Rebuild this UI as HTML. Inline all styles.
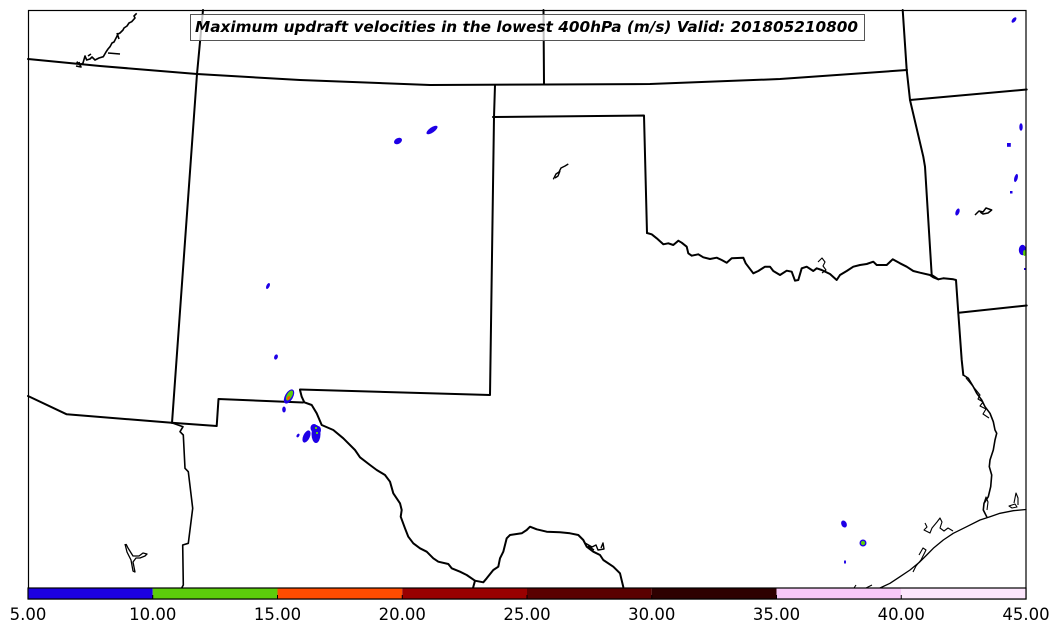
<!DOCTYPE html>
<html>
<head>
<meta charset="utf-8">
<style>
  html,body{margin:0;padding:0;background:#fff;}
  svg{display:block;}
  .st{fill:none;stroke:#000;stroke-width:2;stroke-linejoin:round;stroke-linecap:round;}
  .cs{fill:none;stroke:#000;stroke-width:1.3;stroke-linejoin:round;stroke-linecap:round;}
  .lk{fill:none;stroke:#000;stroke-width:1.1;stroke-linejoin:round;}
  .tk{font-family:"DejaVu Sans","Liberation Sans",sans-serif;font-size:16.5px;fill:#000;}
</style>
</head>
<body>
<svg width="1060" height="633" viewBox="0 0 1060 633" xmlns="http://www.w3.org/2000/svg">
  <rect x="0" y="0" width="1060" height="633" fill="#fff"/>

  <!-- state borders -->
  <path class="st" d="M28,59 L100,66 L197,74 L300,80 L430,85 L545,84.5 L650,84 L780,79 L907,70"/>
  <path class="st" d="M203,10 L197,74 L172,423"/>
  <path class="st" d="M543.5,10 L544,84"/>
  <path class="st" d="M495,85 L494,117 L490,395 L300,389.5"/>
  <path class="st" d="M493,117 L644,115.5 L647,233"/>
  <path class="st" d="M28,396 L66.7,414.3 L171.7,422.7 L216.7,426 L218.5,399 L303,402.5"/>
  <!-- Mexico state border -->
  <path class="st" style="stroke-width:1.6" d="M171.7,422.7 L183,426.7 L180,431.7 L183.3,435 L185,468.3 L188.3,471.7 L192.7,508.3 L188.3,543.3 L182.7,545 L183.3,585 L181.7,588"/>
  <!-- Rio Grande -->
  <path class="st" d="M300,390 L301.7,396.7 L304.3,402.3 L311.7,405 L316.7,413.3 L321.7,425 L333.3,430 L343.3,438.3 L355,450 L360,457.3 L370,465 L376.7,470 L385,475 L390,481.7 L393.3,493.3 L400,503.3 L401.7,510 L400.7,516.7 L405,528.3 L408.3,536.7 L413.3,543.3 L420,548.3 L426.7,551.7 L433.3,558.3 L438.3,561.7 L448.3,564 L451.7,568.3 L460,571.7 L466.7,575 L475,580.7 L483.3,582.3 L486.7,578.3 L493.3,570 L498.3,566.7 L500,558.3 L503.3,551.7 L506.7,538.3 L510,535 L521.7,533.3 L526.7,530 L530,526.7 L536.7,529.3 L546.7,531.7 L560,532.3 L570,533.3 L578.3,535 L583.3,540 L586.7,546.7 L593.3,551.7 L600,555 L603.3,560 L613.3,566.7 L620,573.3 L623.3,587"/>
  <path class="st" d="M475,580.7 L473,588"/>
  <path class="lk" style="stroke-width:1.4" d="M585,543 L592,547 L596,545 L598,550 L604,549 L603,543 L601,548 M588,546 L594,550"/>
  <!-- Red River -->
  <path class="st" d="M647,233 L651.7,234.3 L656.7,238.3 L663.3,244.3 L668.3,243.3 L673.3,245 L678.3,240.7 L681.7,242.7 L686.7,246.7 L688.3,253.3 L691.7,255.7 L698.3,254.3 L703.3,257.3 L710,259 L716.7,257.7 L721.7,260 L726.7,262.7 L731.7,258.3 L743.3,257.7 L745.7,263.3 L753.3,273.3 L758.3,271 L765,266.7 L770,266.7 L773.3,271 L780,275 L786.7,270.7 L791.7,271.7 L795,280.7 L798.3,280 L801.7,268.3 L806.7,266.7 L813.3,271 L816.7,268.3 L821.7,270 L830,274 L836.7,280 L840,275 L846.7,271 L853.3,266.7 L860,265 L866.7,264 L873.3,261.7 L876.7,265 L886.7,265 L892.7,259.3 L900,263.3 L906.7,266.7 L913.3,271 L920,272.7 L930,275 L933.3,277.3 L938.3,279.3 L943.3,278.3 L953.3,279.3 L956,280 L958.3,313 L961.7,360 L963.3,375"/>
  <path class="lk" d="M818,262 L822,258 L825,262 L823,266 L826,270 L822,273"/>
  <!-- Sabine -->
  <path class="st" style="stroke-width:1.6" d="M963.3,375 L968.3,378.3 L973.3,386.7 L976.7,393.3 L981.7,400 L985,406.7 L990,413.3 L993.3,421.7 L995,430 L996.7,433.3 L995,440 L993.3,450 L990,460 L989.3,466.7 L991.7,475 L990.7,486.7 L988.3,496.7 L984,503.3 L983.3,510 L986.7,516.7"/>
  <path class="lk" d="M966,378 L971,384 L976,390 L980,395 L978,399 L983,402 L980,406 L986,409 L983,414 L989,418"/>
  <path class="lk" d="M984,503 L986,497 L988,502 L987,510"/>
  <!-- coast -->
  <path class="cs" d="M1026,509.5 L1013.3,510.7 L1000,513.3 L990,516.7 L980,520 L966.7,526.7 L953.3,533.3 L943.3,540 L933.3,548.3 L926.7,555 L920,561.7 L910,570 L900,576.7 L890,583.3 L880,588"/>
  <path class="lk" d="M925,523 L927,527 L924,530 L930,533 L932,528 L937,522 L940,518 L942,522 L940,528 L944,531 L948,528 L953,531"/>
  <path class="lk" d="M919,555 L923,548 L926,550 L921,560 L916,566 L913,572"/>
  <path class="lk" d="M1009,506 L1015,504 L1017,507 L1012,508 Z M1014,503 L1016,493 L1018,498 L1018,505"/>
  <path class="lk" d="M866,588 L872,585 M854,588 L856,585"/>
  <!-- OK/AR & AR/LA -->
  <path class="st" d="M902.7,10 L906.7,70 L910,100 L923.3,156.7 L925,166.7 L931.7,275 L938.3,279.3"/>
  <path class="st" d="M910,100 L1026.7,89.5"/>
  <path class="st" d="M958.7,312.7 L1026.7,305.5"/>

  <!-- lakes -->
  <path class="lk" style="stroke-width:1.6" d="M136.7,13.3 L134,16 L135,18 L131.7,21.7 L129,23 L127,26 L124,28 L123,30 L120,33 L118,34 L116.7,36.7 L114,42 L112,43 L110,46.7 L108,49 L106,52 L103.3,56.7 L99,58 L95,60 L92,57 L90,59 L86.7,60 L85,56 L83,63 L80,65 L77,62 L76.7,61.7 M108,53 L120,54 M79,62 L81,67 L76,66 M88,56 L91,54 M117,33 L119,39"/>
  <path class="lk" style="stroke-width:1.4" d="M553.3,179.3 L556,174 L559,172 L561,168 L565,166 L568.3,164 M555,178 L558,176 L560,171"/>
  <path class="lk" style="stroke-width:1.5" d="M975,215 L979,211 L983,212 L986,208 L991.7,210 L988,213 L983,214 L980,212"/>
  <path class="lk" style="stroke-width:1.3" d="M125,544 L127,552 L131,560 L133,571 L135,572 L133,562 L136,558 L140,558 L145,556 L147,554 L143,553 L139,556 L133,556 L128,548 L126,544"/>

  <!-- updraft cells -->
  <g fill="#1e00e6">
    <ellipse cx="1014" cy="20" rx="1.7" ry="3.2" transform="rotate(40 1014 20)"/>
    <ellipse cx="398" cy="141" rx="4.3" ry="2.9" transform="rotate(-30 398 141)"/>
    <ellipse cx="432" cy="130" rx="6.5" ry="2.6" transform="rotate(-35 432 130)"/>
    <ellipse cx="268" cy="286" rx="1.6" ry="3.2" transform="rotate(25 268 286)"/>
    <ellipse cx="276" cy="357" rx="1.8" ry="2.7" transform="rotate(20 276 357)"/>
    <ellipse cx="289" cy="396.5" rx="4" ry="7.8" transform="rotate(30 289 396.5)"/>
    <ellipse cx="284" cy="409.5" rx="1.8" ry="3"/>
    <ellipse cx="298" cy="435.5" rx="1.3" ry="2" transform="rotate(30 298 435.5)"/>
    <ellipse cx="306.5" cy="436.5" rx="3.3" ry="6.5" transform="rotate(25 306.5 436.5)"/>
    <ellipse cx="316" cy="434" rx="4.5" ry="9"/>
    <ellipse cx="314" cy="428" rx="3.5" ry="4"/>
    <ellipse cx="318" cy="430" rx="3" ry="4"/>
    <ellipse cx="1021" cy="127" rx="1.7" ry="3.7"/>
    <rect x="1007" y="143" width="3.8" height="3.8"/>
    <ellipse cx="1016" cy="178" rx="1.7" ry="4.2" transform="rotate(15 1016 178)"/>
    <rect x="1010" y="191" width="2.5" height="2.5"/>
    <ellipse cx="957.5" cy="212" rx="1.9" ry="3.7" transform="rotate(20 957.5 212)"/>
    <ellipse cx="1022.5" cy="250" rx="3.7" ry="5.2"/>
    <rect x="1024" y="268" width="1.5" height="2"/>
    <ellipse cx="844" cy="524" rx="2.7" ry="3.7" transform="rotate(-25 844 524)"/>
    <ellipse cx="863" cy="543" rx="3.5" ry="3.5"/>
    <ellipse cx="845" cy="562" rx="1" ry="1.8"/>
  </g>
  <g fill="#5ccc0b">
    <ellipse cx="289.5" cy="395.5" rx="2.6" ry="5.6" transform="rotate(30 289.5 395.5)"/>
    <ellipse cx="863" cy="543" rx="2.1" ry="2.1"/>
    <ellipse cx="1024.5" cy="253" rx="1.5" ry="3"/>
    <rect x="315" y="427" width="2" height="2"/>
    <rect x="316" y="432" width="2" height="2"/>
  </g>
  <g fill="#ff4c00">
    <ellipse cx="288.5" cy="398" rx="1.3" ry="2" transform="rotate(30 288.5 398)"/>
  </g>

  <!-- title box -->
  <rect x="190.5" y="14.5" width="674" height="26" fill="#fff" fill-opacity="0.75" stroke="#555" stroke-width="1"/>
  <text x="195" y="32" textLength="663" lengthAdjust="spacingAndGlyphs" style="font-family:'DejaVu Sans','Liberation Sans',sans-serif;font-size:15px;font-weight:bold;font-style:italic;fill:#000;">Maximum updraft velocities in the lowest 400hPa (m/s) Valid: 201805210800</text>

  <!-- map frame -->
  <rect x="28.5" y="10.5" width="997.5" height="588.5" fill="none" stroke="#000" stroke-width="1.2"/>

  <!-- colorbar -->
  <rect x="28" y="588" width="124.75" height="11" fill="#1c00e0"/>
  <rect x="152.75" y="588" width="124.75" height="11" fill="#5ccc0b"/>
  <rect x="277.5" y="588" width="124.75" height="11" fill="#ff4c00"/>
  <rect x="402.25" y="588" width="124.75" height="11" fill="#990000"/>
  <rect x="527" y="588" width="124.75" height="11" fill="#5a0000"/>
  <rect x="651.75" y="588" width="124.75" height="11" fill="#2e0000"/>
  <rect x="776.5" y="588" width="124.75" height="11" fill="#f8c8f8"/>
  <rect x="901.25" y="588" width="124.75" height="11" fill="#fde6fd"/>
  <g stroke="#000" stroke-width="1">
    <line x1="152.75" y1="595" x2="152.75" y2="599"/>
    <line x1="277.5" y1="595" x2="277.5" y2="599"/>
    <line x1="402.25" y1="595" x2="402.25" y2="599"/>
    <line x1="527" y1="595" x2="527" y2="599"/>
    <line x1="651.75" y1="595" x2="651.75" y2="599"/>
    <line x1="776.5" y1="595" x2="776.5" y2="599"/>
    <line x1="901.25" y1="595" x2="901.25" y2="599"/>
  </g>
  <rect x="28" y="588" width="998" height="11" fill="none" stroke="#000" stroke-width="1.2"/>

  <g class="tk" text-anchor="middle">
    <text x="28" y="620">5.00</text>
    <text x="152.75" y="620">10.00</text>
    <text x="277.5" y="620">15.00</text>
    <text x="402.25" y="620">20.00</text>
    <text x="527" y="620">25.00</text>
    <text x="651.75" y="620">30.00</text>
    <text x="776.5" y="620">35.00</text>
    <text x="901.25" y="620">40.00</text>
    <text x="1026" y="620">45.00</text>
  </g>
</svg>
</body>
</html>
